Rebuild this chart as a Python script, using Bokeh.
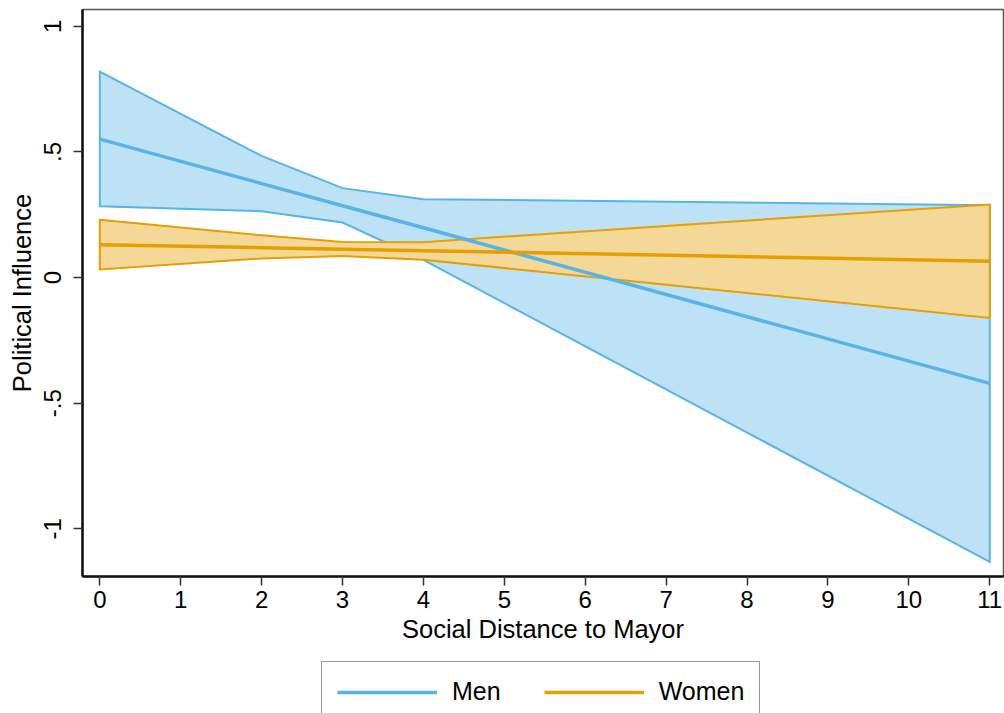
from bokeh.plotting import figure
from bokeh.models import Range1d, FixedTicker, Legend, LegendItem, ColumnDataSource
from bokeh.layouts import column
from bokeh.embed import file_html
from bokeh.resources import INLINE

# Data
distance = [0, 2, 3, 4, 11]
men_mean = [0.551, 0.374, 0.286, 0.198, -0.421]
men_upper = [0.820, 0.484, 0.356, 0.312, 0.288]
men_lower = [0.284, 0.264, 0.219, 0.070, -1.132]
women_mean = [0.131, 0.119, 0.113, 0.107, 0.065]
women_upper = [0.230, 0.168, 0.142, 0.141, 0.291]
women_lower = [0.032, 0.076, 0.086, 0.071, -0.161]

x_ticks = list(range(0, 12))
y_ticks = [-1, -0.5, 0, 0.5, 1]
y_tick_labels = {-1: "-1", -0.5: "-.5", 0: "0", 0.5: ".5", 1: "1"}
series_names = ["Men", "Women"]

MEN_LINE = "#56B4E9"
MEN_FILL = "#BDE1F5"
WOMEN_LINE = "#E69F00"
WOMEN_FILL = "#F3D897"
FONT = "Liberation Sans"

p = figure(width=1004, height=658, output_backend="svg", toolbar_location=None,
           x_range=Range1d(-0.214, 11.17), y_range=Range1d(-1.19, 1.067),
           min_border_top=9, min_border_right=1, min_border_left=82,
           min_border_bottom=82)
p.background_fill_color = "white"
p.border_fill_color = "white"
p.xgrid.visible = False
p.ygrid.visible = False
p.outline_line_color = "#555555"
p.outline_line_width = 1.5

def band(lo, hi):
    xs = list(distance) + list(reversed(distance))
    ys = list(hi) + list(reversed(lo))
    return xs, ys

mx, my = band(men_lower, men_upper)
p.patch(mx, my, fill_color=MEN_FILL, line_color=MEN_LINE, line_width=2, line_join="miter")
wx, wy = band(women_lower, women_upper)
p.patch(wx, wy, fill_color=WOMEN_FILL, line_color=WOMEN_LINE, line_width=2, line_join="miter")

men_src = ColumnDataSource(dict(x=distance, y=men_mean))
women_src = ColumnDataSource(dict(x=distance, y=women_mean))
p.line("x", "y", source=men_src, line_color=MEN_LINE, line_width=3.5)
p.line("x", "y", source=women_src, line_color=WOMEN_LINE, line_width=3.5)

for ax in (p.xaxis[0], p.yaxis[0]):
    ax.axis_line_color = "#111111"
    ax.axis_line_width = 2.5
    ax.major_tick_line_color = "#333333"
    ax.major_tick_line_width = 1.5
    ax.major_tick_out = 9
    ax.major_tick_in = 0
    ax.minor_tick_out = 0
    ax.minor_tick_in = 0
    ax.major_label_text_font = FONT
    ax.major_label_text_font_size = "24px"
    ax.major_label_text_color = "black"
    ax.axis_label_text_font = FONT
    ax.axis_label_text_font_size = "25.5px"
    ax.axis_label_text_font_style = "normal"
    ax.axis_label_text_color = "black"

p.xaxis.ticker = FixedTicker(ticks=x_ticks)
p.xaxis.axis_label = "Social Distance to Mayor"
p.xaxis.major_label_standoff = 5
p.xaxis.axis_label_standoff = 4

p.yaxis.ticker = FixedTicker(ticks=y_ticks)
p.yaxis.major_label_overrides = y_tick_labels
p.yaxis.major_label_orientation = "parallel"
p.yaxis.axis_label = "Political Influence"
p.yaxis.major_label_standoff = 12
p.yaxis.axis_label_standoff = 6

# Legend panel below the chart (its lines reuse the series sources, kept off-range)
lg = figure(width=1004, height=55, output_backend="svg", toolbar_location=None,
            x_range=Range1d(0, 1), y_range=Range1d(50, 51),
            x_axis_location=None, y_axis_location=None,
            min_border=0)
lg.outline_line_color = None
lg.xgrid.visible = False
lg.ygrid.visible = False
lg.background_fill_color = "white"
lg.border_fill_color = "white"
l_men = lg.line("x", "y", source=men_src, line_color=MEN_LINE, line_width=3.5)
l_women = lg.line("x", "y", source=women_src, line_color=WOMEN_LINE, line_width=3.5)

legend = Legend(items=[LegendItem(label=series_names[0], renderers=[l_men]),
                       LegendItem(label=series_names[1], renderers=[l_women])],
                orientation="horizontal", location=(239, -9))
legend.label_text_font = FONT
legend.label_text_font_size = "25px"
legend.label_text_color = "black"
legend.glyph_width = 100
legend.glyph_height = 20
legend.label_standoff = 15
legend.spacing = 43
legend.padding = 15
legend.margin = 0
legend.border_line_color = "#333333"
legend.border_line_width = 1.5
legend.background_fill_color = "white"
lg.add_layout(legend, "center")

open("out.html", "w").write(file_html(column(p, lg, spacing=0), INLINE))
